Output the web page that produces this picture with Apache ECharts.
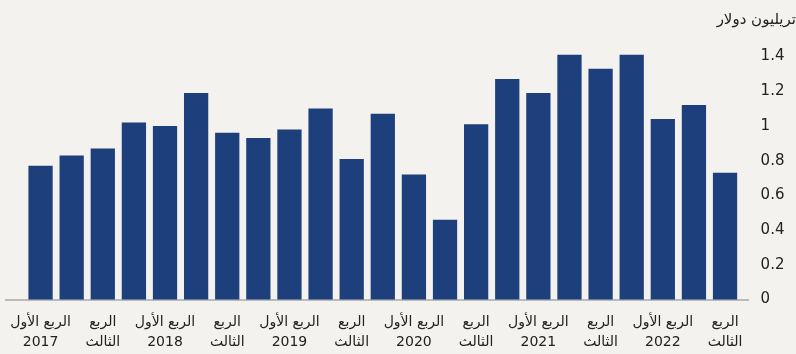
<!DOCTYPE html>
<html><head><meta charset="utf-8">
<script src="https://cdn.jsdelivr.net/npm/echarts@6/dist/echarts.min.js"></script>
<style>html,body{margin:0;padding:0;background:#f4f2ee}#c{width:796px;height:354px}</style>
</head><body><div id="c"></div>
<script>
const categories = [
 "الربع الأول 2017","الربع الثاني 2017","الربع الثالث 2017","الربع الرابع 2017",
 "الربع الأول 2018","الربع الثاني 2018","الربع الثالث 2018","الربع الرابع 2018",
 "الربع الأول 2019","الربع الثاني 2019","الربع الثالث 2019","الربع الرابع 2019",
 "الربع الأول 2020","الربع الثاني 2020","الربع الثالث 2020","الربع الرابع 2020",
 "الربع الأول 2021","الربع الثاني 2021","الربع الثالث 2021","الربع الرابع 2021",
 "الربع الأول 2022","الربع الثاني 2022","الربع الثالث 2022"
];
const tickLabels = [
 "الربع الأول\n2017","","الربع\nالثالث","",
 "الربع الأول\n2018","","الربع\nالثالث","",
 "الربع الأول\n2019","","الربع\nالثالث","",
 "الربع الأول\n2020","","الربع\nالثالث","",
 "الربع الأول\n2021","","الربع\nالثالث","",
 "الربع الأول\n2022","","الربع\nالثالث"
];
const values = [0.77,0.83,0.87,1.02, 1.00,1.19,0.96,0.93, 0.98,1.10,0.81,1.07,
 0.72,0.46,1.01,1.27, 1.19,1.41,1.33,1.41, 1.04,1.12,0.73];
const yTicks = {min:0, max:1.4, interval:0.2};
const unitLabel = "تريليون دولار";

const chart = echarts.init(document.getElementById('c'));
const font = '"DejaVu Sans", "Noto Sans", sans-serif';
chart.setOption({
  backgroundColor: '#f4f2ee',
  animation: false,
  grid: {left: 25, right: 55.4, top: 56.5, bottom: 54.5},
  xAxis: {
    type: 'category', data: categories,
    axisLine: {show: false}, axisTick: {show: false},
    axisLabel: {
      interval: 0, margin: 13, color: '#222', fontFamily: font,
      fontSize: 14, lineHeight: 20,
      formatter: (v, i) => tickLabels[i]
    }
  },
  yAxis: {
    type: 'value', position: 'right', min: yTicks.min, max: yTicks.max, interval: yTicks.interval,
    splitLine: {show: false}, axisLine: {show: false}, axisTick: {show: false},
    axisLabel: {margin: 20, color: '#222', fontFamily: font, fontSize: 15, align: 'left'}
  },
  series: [{
    type: 'bar', data: values, barWidth: '78%', clip: false,
    itemStyle: {color: '#1d3f7b'}
  }]
});
const y0 = chart.convertToPixel({yAxisIndex: 0}, 0);
const gw = 796 - 55.4;
chart.setOption({
  graphic: [
    {type: 'line', shape: {x1: 5, y1: y0 + 0.5, x2: gw + 8.5, y2: y0 + 0.5},
     style: {stroke: '#a9a9a9', lineWidth: 1.5}, silent: true},
    {type: 'text', right: 0, top: 13,
     style: {text: unitLabel, font: '15px ' + font, fill: '#222', textAlign: 'right'}}
  ]
});
</script></body></html>
